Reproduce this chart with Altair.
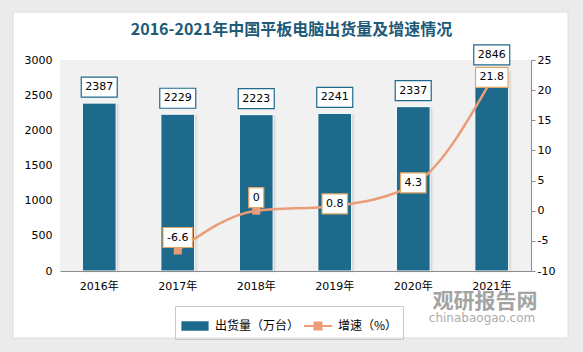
import altair as alt
import pandas as pd

# ---------------- data ----------------
years = ["2016年", "2017年", "2018年", "2019年", "2020年", "2021年"]
shipments = [2387, 2229, 2223, 2241, 2337, 2846]
growth_years = ["2017年", "2018年", "2019年", "2020年", "2021年"]
growth = [-6.6, 0.0, 0.8, 4.3, 21.8]

BAR_NAME = "出货量（万台）"
LINE_NAME = "增速（%）"
TITLE = "2016-2021年中国平板电脑出货量及增速情况"

BLUE = "#1e6a8d"
ORANGE = "#ea9c78"
BOX_ORANGE = "#dfa866"
NUM_FONT = "DejaVu Sans"
CJK_FONT = "Noto Sans CJK SC"


def text_w(s):
    w = 0.0
    for ch in s:
        if ch == ".":
            w += 3.5
        elif ch == "-":
            w += 4.0
        else:
            w += 7.0
    return w


def box_path(s, unit=5.0, h=20.0):
    hw = (text_w(s) + 8) / 2 / unit
    hh = h / 2 / unit
    return f"M{-hw:.2f},{-hh:.2f}L{hw:.2f},{-hh:.2f}L{hw:.2f},{hh:.2f}L{-hw:.2f},{hh:.2f}Z"


bar_df = pd.DataFrame({"year": years, "value": shipments})
bar_df["label"] = bar_df["value"].astype(str)
bar_df["box"] = bar_df["label"].map(box_path)
bar_df["series"] = BAR_NAME

g_df = pd.DataFrame({"year": growth_years, "g": growth})
g_df["label"] = g_df["g"].map(lambda v: f"{v:g}")
g_df["box"] = g_df["label"].map(box_path)
g_df["series"] = LINE_NAME

one = pd.DataFrame({"k": [0]})

# ---------------- scales / axes ----------------
x_enc = alt.X(
    "year:N",
    sort=years,
    scale=alt.Scale(domain=years, paddingInner=0.57, paddingOuter=0.285),
    axis=alt.Axis(
        title=None, labelAngle=0, ticks=False, domainColor="#8c8c8c",
        labelFont=f"{NUM_FONT}, {CJK_FONT}", labelFontSize=11, labelColor="#000000",
        labelPadding=9, grid=False, zindex=1,
    ),
)

left_axis = alt.Axis(
    title=None, values=[0, 500, 1000, 1500, 2000, 2500, 3000], domain=False,
    ticks=False, grid=False, labelPadding=8, labelFont=NUM_FONT,
    labelFontSize=11, labelColor="#000000", zindex=1,
    labelExpr="'' + datum.value",
)
right_axis = alt.Axis(
    title=None, orient="right", values=[-10, -5, 0, 5, 10, 15, 20, 25],
    domain=True, domainColor="#8c8c8c", ticks=True, tickColor="#8c8c8c",
    tickSize=4, grid=False, labelPadding=2, labelFont=NUM_FONT,
    labelFontSize=11, labelColor="#000000", zindex=1,
    labelExpr="'' + datum.value",
)
y_left = alt.Y("value:Q", scale=alt.Scale(domain=[0, 3000], nice=False), axis=left_axis)
y_right = alt.Y("g:Q", scale=alt.Scale(domain=[-10, 25], nice=False), axis=right_axis)

sym_expr = (
    "datum.value === '" + LINE_NAME + "' ? "
    "'M-1,0L1,0M-0.25,-0.25L0.25,-0.25L0.25,0.25L-0.25,0.25Z' : "
    "'M-0.9,-0.27L0.9,-0.27L0.9,0.27L-0.9,0.27Z'"
)
color_scale = alt.Scale(domain=[BAR_NAME, LINE_NAME], range=[BLUE, ORANGE])
legend = alt.Legend(
    title=None, orient="none", legendX=115, legendY=246, direction="horizontal",
    strokeColor="#c8c8c8", padding=5, symbolSize=784, labelFont=CJK_FONT,
    labelFontSize=12, labelColor="#000000", labelOffset=5, columnPadding=0,
    symbolStrokeWidth=2, gridAlign="none",
    symbolType={"expr": sym_expr},
    symbolFillColor={"expr": "scale('color', datum.value)"},
    symbolStrokeColor={"expr": "scale('color', datum.value)"},
    symbolOpacity=1,
)
color_enc = alt.Color("series:N", scale=color_scale, legend=legend)

# ---------------- background card & plot fill ----------------
card = alt.Chart(one).mark_rect(fill="white", stroke="#dcdcdc", strokeWidth=1).encode(
    x=alt.value(-47), x2=alt.value(508), y=alt.value(-48), y2=alt.value(278)
)
plot_bg = alt.Chart(one).mark_rect(fill="#f1f1f1").encode(
    x=alt.value(0), x2=alt.value("width"), y=alt.value(0), y2=alt.value("height")
)

# ---------------- bars ----------------
base_bar = alt.Chart(bar_df)
shadow = base_bar.mark_bar(
    fill="#8a8a8a", opacity=0.25, stroke="#9a9a9a", strokeWidth=3,
    strokeOpacity=0.25, xOffset=2, yOffset=1,
).encode(x=x_enc, y=y_left)
bars = base_bar.mark_bar(stroke="white", strokeWidth=1).encode(
    x=x_enc, y=y_left, color=color_enc
)
bar_boxes = base_bar.mark_point(
    filled=True, fill="white", stroke=BLUE, strokeWidth=1.2, size=100,
    opacity=1, yOffset=-16,
).encode(x=x_enc, y=y_left, shape=alt.Shape("box:N", scale=None))
bar_text = base_bar.mark_text(
    font=NUM_FONT, fontSize=11, color="#000000", baseline="middle", yOffset=-16
).encode(x=x_enc, y=y_left, text="label:N")

left = alt.layer(card, plot_bg, shadow, bars, bar_boxes, bar_text)

# ---------------- growth line ----------------
base_g = alt.Chart(g_df)
line = base_g.mark_line(interpolate="monotone", strokeWidth=2.5).encode(
    x=x_enc, y=y_right, color=color_enc
)
squares = base_g.mark_square(size=64, opacity=1, color=ORANGE).encode(
    x=x_enc, y=y_right
)


def g_labels(cond, dy):
    b = base_g.transform_filter(cond)
    boxes = b.mark_point(
        filled=True, fill="white", stroke=BOX_ORANGE, strokeWidth=1.2, size=100,
        opacity=1, yOffset=dy,
    ).encode(x=x_enc, y=y_right, shape=alt.Shape("box:N", scale=None))
    txt = b.mark_text(
        font=NUM_FONT, fontSize=11, color="#000000", baseline="middle", yOffset=dy
    ).encode(x=x_enc, y=y_right, text="label:N")
    return [boxes, txt]


right = alt.layer(
    line, squares,
    *g_labels("datum.g <= 0", -13),
    *g_labels("datum.g > 0", -2),
)

# ---------------- watermark ----------------
wm1 = alt.Chart(one).mark_text(
    text="观研报告网", font=CJK_FONT, fontSize=21, fontWeight="bold",
    color="#a3a3a3", baseline="middle", align="center",
).encode(x=alt.value(425), y=alt.value(242))
wm2 = alt.Chart(one).mark_text(
    text="chinabaogao.com", font=NUM_FONT, fontSize=12,
    color="#ababab", baseline="middle", align="center",
).encode(x=alt.value(422), y=alt.value(258))

chart = (
    alt.layer(left, right, wm1, wm2)
    .resolve_scale(y="independent")
    .properties(
        width=471,
        height=211,
        autosize=alt.AutoSizeParams(type="none"),
        padding={"left": 60, "top": 60, "right": 52, "bottom": 81},
        background="#ebebeb",
        title=alt.TitleParams(
            TITLE, font=CJK_FONT, fontSize=16, fontWeight="bold",
            color="#1d5a78", anchor="middle", offset=-26, dx=-4,
        ),
    )
    .configure_view(stroke=None)
)

chart.save("out.html", embed_options={"renderer": "svg", "actions": False})
